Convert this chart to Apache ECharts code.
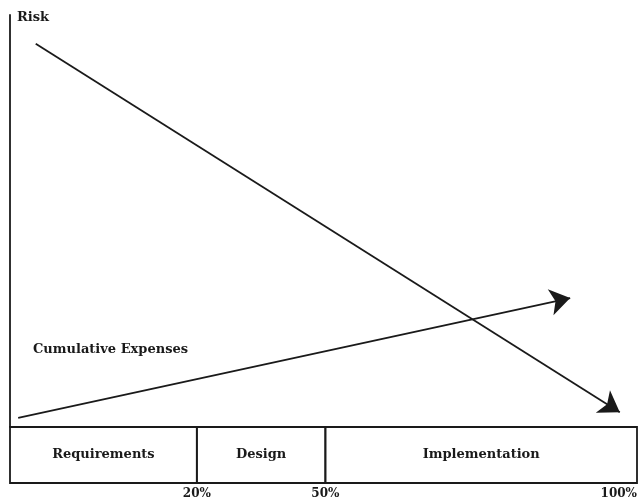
<!DOCTYPE html>
<html>
<head>
<meta charset="utf-8">
<script src="https://cdn.jsdelivr.net/npm/echarts@6/dist/echarts.min.js"></script>
<style>html,body{margin:0;padding:0;background:#fff}#c{width:640px;height:504px}</style>
</head>
<body>
<div id="c"></div>
<script>
// ---- data ----
const riskLine = [[4.1, 93.0], [97.1, 3.6]];        // Risk (falling) arrow
const expenseLine = [[1.3, 2.2], [89.2, 31.3]];     // Cumulative expenses (rising) arrow
const phases = ['Requirements', 'Design', 'Implementation'];
const phaseBounds = [0, 29.8, 50.3, 100];           // positions of phase borders on the x scale
const tickLabels = ['20%', '50%', '100%'];
const yAxisName = 'Risk';
const expenseLabel = 'Cumulative Expenses';

const FONT = '"DejaVu Serif", "Liberation Serif", serif';
const INK = '#1a1a1a';

const phaseData = phases.map((p, i) => [phaseBounds[i], phaseBounds[i + 1], p]);

const chart = echarts.init(document.getElementById('c'), null, { renderer: 'canvas' });
chart.setOption({
  animation: false,
  backgroundColor: '#fff',
  grid: [
    { left: 10, right: 2, top: 15, height: 412 },
    { left: 10, right: 2, top: 427, height: 56 }
  ],
  xAxis: [
    { gridIndex: 0, type: 'value', min: 0, max: 100, show: false },
    {
      gridIndex: 1, type: 'value', min: 0, max: 100,
      axisLine: { show: false }, axisTick: { show: false }, splitLine: { show: false },
      axisLabel: {
        customValues: phaseBounds.slice(1),
        formatter: v => tickLabels[phaseBounds.indexOf(v) - 1] || '',
        margin: 5,
        alignMaxLabel: 'right',
        fontFamily: FONT, fontWeight: 'bold', fontSize: 12, color: INK
      }
    }
  ],
  yAxis: [
    {
      gridIndex: 0, type: 'value', min: 0, max: 100,
      name: yAxisName, nameLocation: 'end', nameGap: 4,
      nameTextStyle: { fontFamily: FONT, fontWeight: 'bold', fontSize: 13, color: INK, align: 'left', verticalAlign: 'top', padding: [0, 0, 0, 7] },
      axisLine: { show: true, lineStyle: { color: INK, width: 1.8 } },
      axisTick: { show: false }, axisLabel: { show: false }, splitLine: { show: false }
    },
    { gridIndex: 1, type: 'value', min: 0, max: 1, show: false }
  ],
  graphic: [
    {
      type: 'text', left: 33, top: 343,
      style: { text: expenseLabel, font: 'bold 13px ' + FONT, fill: INK }
    }
  ],
  series: [
    {
      type: 'lines', coordinateSystem: 'cartesian2d', xAxisIndex: 0, yAxisIndex: 0,
      symbol: ['none', 'arrow'], symbolSize: [16, 20],
      lineStyle: { color: INK, width: 1.8, opacity: 1 },
      data: [{ coords: riskLine }, { coords: expenseLine }]
    },
    {
      type: 'custom', coordinateSystem: 'cartesian2d', xAxisIndex: 1, yAxisIndex: 1,
      data: phaseData,
      renderItem: (params, api) => {
        const p0 = api.coord([api.value(0), 1]);
        const p1 = api.coord([api.value(1), 0]);
        return {
          type: 'group',
          children: [
            {
              type: 'rect',
              shape: { x: p0[0], y: p0[1], width: p1[0] - p0[0], height: p1[1] - p0[1] },
              style: { fill: 'none', stroke: INK, lineWidth: 1.8 }
            },
            {
              type: 'text',
              style: {
                text: api.value(2), x: (p0[0] + p1[0]) / 2, y: (p0[1] + p1[1]) / 2,
                align: 'center', verticalAlign: 'middle',
                font: 'bold 13px ' + FONT, fill: INK
              }
            }
          ]
        };
      }
    }
  ]
});
</script>
</body>
</html>
